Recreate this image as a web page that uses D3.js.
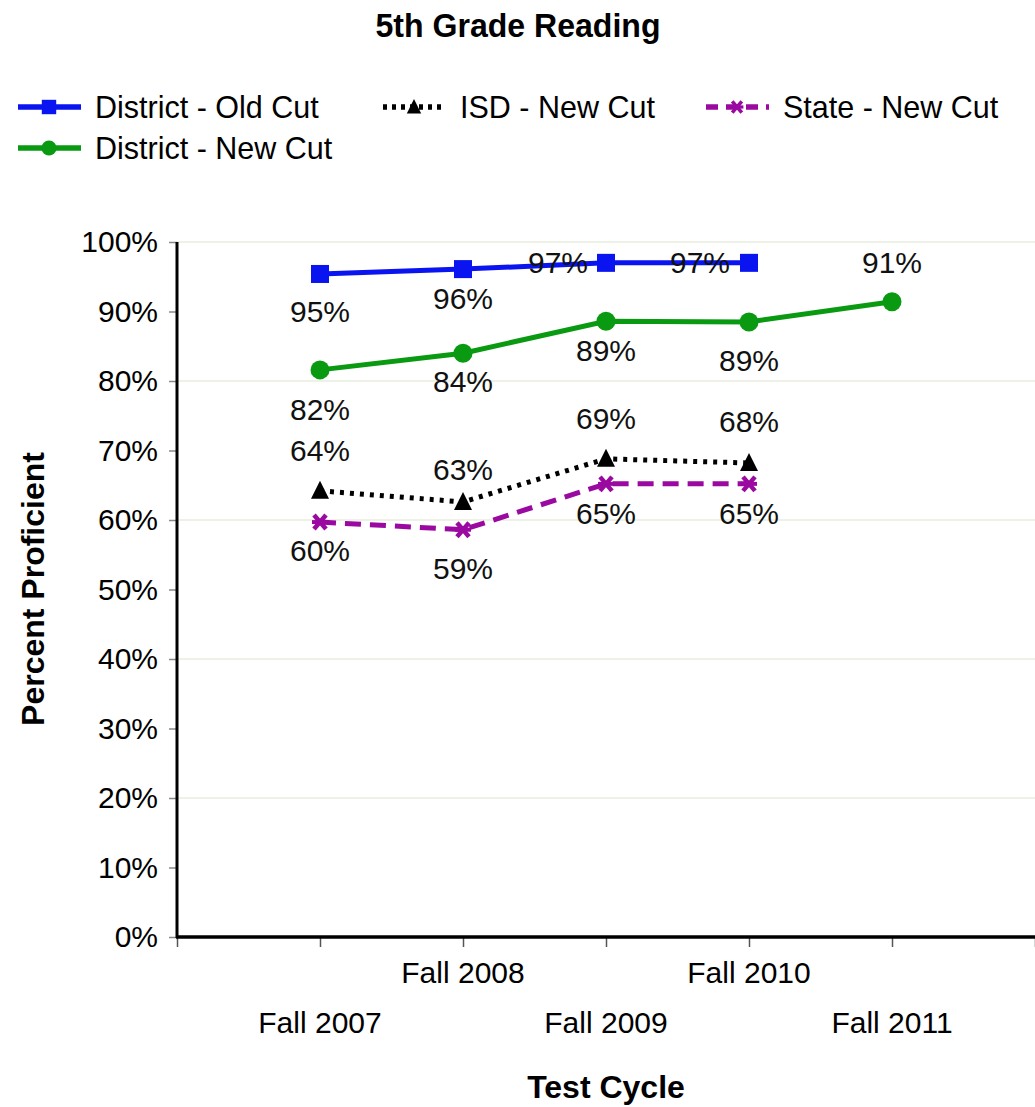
<!DOCTYPE html>
<html>
<head>
<meta charset="utf-8">
<script src="https://cdn.jsdelivr.net/npm/d3@7/dist/d3.min.js"></script>
<style>
  html, body { margin: 0; padding: 0; background: #fff; }
  svg { display: block; font-family: "Liberation Sans", Arial, sans-serif; }
</style>
</head>
<body>
<svg id="chart" width="1035" height="1107"></svg>
<script>
// ---- data ----
const categories = ["Fall 2007", "Fall 2008", "Fall 2009", "Fall 2010", "Fall 2011"];
const districtOld = [95.4, 96.1, 97.0, 97.0];
const districtNew = [81.6, 84.0, 88.6, 88.5, 91.4];
const isdNew = [64.2, 62.6, 68.8, 68.2];
const stateNew = [59.7, 58.6, 65.2, 65.2];
const districtOldLabels = ["95%", "96%", "97%", "97%"];
const districtNewLabels = ["82%", "84%", "89%", "89%", "91%"];
const isdNewLabels = ["64%", "63%", "69%", "68%"];
const stateNewLabels = ["60%", "59%", "65%", "65%"];
const yTicks = [0, 10, 20, 30, 40, 50, 60, 70, 80, 90, 100];
const gridTicks = [20, 40, 60, 80, 100];

// ---- layout / style (not data) ----
const plot = { left: 177, right: 1035, top: 242, bottom: 937 };
const svg = d3.select("#chart");

const x = d3.scaleLinear().domain([-1, categories.length]).range([plot.left, plot.right]);
const y = d3.scaleLinear().domain([0, 100]).range([plot.bottom, plot.top]);

// label offsets per series (pixel offsets, styling only)
const offOld = [[0, 37], [0, 29], [-48, -1], [-49, -1]];
const offNew = [[0, 39], [0, 28], [0, 29], [0, 38], [0, -40]];
const offIsd = [[0, -41], [0, -33], [0, -41], [0, -42]];
const offState = [[0, 28], [0, 38], [0, 29], [0, 29]];

// gridlines
svg.append("g").selectAll("line").data(gridTicks).join("line")
  .attr("x1", plot.left).attr("x2", plot.right)
  .attr("y1", d => y(d)).attr("y2", d => y(d))
  .attr("stroke", "#e9ecdd").attr("stroke-width", 1.5);

// y axis
const yAxis = d3.axisLeft(y).tickValues(yTicks).tickFormat(d => d + "%").tickSize(8).tickPadding(11);
const gy = svg.append("g").attr("transform", `translate(${plot.left},0)`).call(yAxis);
gy.select(".domain").remove();
gy.selectAll(".tick line").attr("stroke", "#888").attr("stroke-width", 1.5);
gy.selectAll(".tick text").attr("font-size", 30).attr("fill", "#000")
  .attr("font-family", "Liberation Sans, Arial, sans-serif");

// x axis
const xTickVals = d3.range(-1, categories.length + 1);
const xAxis = d3.axisBottom(x).tickValues(xTickVals).tickFormat("").tickSize(10);
const gx = svg.append("g").attr("transform", `translate(0,${plot.bottom})`).call(xAxis);
gx.select(".domain").remove();
gx.selectAll(".tick line").attr("stroke", "#555").attr("stroke-width", 1.5);

// x labels (staggered)
svg.append("g").selectAll("text").data(categories).join("text")
  .attr("x", (d, i) => x(i))
  .attr("y", (d, i) => i % 2 === 1 ? 983 : 1033)
  .attr("text-anchor", "middle").attr("font-size", 30).text(d => d);

// axis lines
svg.append("line").attr("x1", plot.left).attr("x2", plot.left)
  .attr("y1", plot.top).attr("y2", plot.bottom + 1).attr("stroke", "#000").attr("stroke-width", 3);
svg.append("line").attr("x1", plot.left - 1).attr("x2", plot.right)
  .attr("y1", plot.bottom).attr("y2", plot.bottom).attr("stroke", "#000").attr("stroke-width", 3.5);

// series definitions
const series = [
  { name: "District - Old Cut", values: districtOld, labels: districtOldLabels, off: offOld,
    color: "#0a14f0", dash: null, width: 5, marker: "square" },
  { name: "ISD - New Cut", values: isdNew, labels: isdNewLabels, off: offIsd,
    color: "#000", dash: "4,6", width: 5, marker: "triangle" },
  { name: "State - New Cut", values: stateNew, labels: stateNewLabels, off: offState,
    color: "#9a0aa0", dash: "16,9", width: 5, marker: "x" },
  { name: "District - New Cut", values: districtNew, labels: districtNewLabels, off: offNew,
    color: "#0a9a12", dash: null, width: 5, marker: "circle" }
];

function drawMarker(g, type, color) {
  if (type === "square") {
    g.append("rect").attr("x", -9).attr("y", -9).attr("width", 18).attr("height", 18).attr("fill", color);
  } else if (type === "circle") {
    g.append("circle").attr("r", 9.5).attr("fill", color);
  } else if (type === "triangle") {
    g.append("path").attr("d", "M0,-10 L9,8 L-9,8 Z").attr("fill", color);
  } else if (type === "x") {
    g.append("path").attr("d", "M-6,-7 L6,7 M6,-7 L-6,7").attr("stroke", color).attr("stroke-width", 4.5).attr("fill", "none");
    g.append("path").attr("d", "M-8,0 L8,0").attr("stroke", color).attr("stroke-width", 4).attr("fill", "none");
  }
}

const line = d3.line().x((d, i) => x(i)).y(d => y(d));

const drawOrder = [3, 0, 1, 2];
drawOrder.forEach(si => {
  const s = series[si];
  svg.append("path").datum(s.values).attr("d", line)
    .attr("fill", "none").attr("stroke", s.color).attr("stroke-width", s.width)
    .attr("stroke-dasharray", s.dash);
  s.values.forEach((v, i) => {
    const g = svg.append("g").attr("transform", `translate(${x(i)},${y(v)})`);
    drawMarker(g, s.marker, s.color);
  });
});

// data labels
series.forEach(s => {
  svg.append("g").selectAll("text").data(s.values).join("text")
    .attr("x", (d, i) => x(i) + s.off[i][0])
    .attr("y", (d, i) => y(d) + s.off[i][1])
    .attr("dy", "0.36em")
    .attr("text-anchor", "middle").attr("font-size", 30).attr("fill", "#111")
    .text((d, i) => s.labels[i]);
});

// title
svg.append("text").attr("x", 518).attr("y", 37).attr("text-anchor", "middle")
  .attr("font-size", 32.5).attr("font-weight", "bold")
  .attr("textLength", 285).attr("lengthAdjust", "spacingAndGlyphs")
  .text("5th Grade Reading");

// axis titles
svg.append("text").attr("x", 606).attr("y", 1098).attr("text-anchor", "middle")
  .attr("font-size", 32).attr("font-weight", "bold").text("Test Cycle");
svg.append("text").attr("transform", "translate(44,589) rotate(-90)").attr("text-anchor", "middle")
  .attr("font-size", 32).attr("font-weight", "bold").text("Percent Proficient");

// legend
const legendItems = [
  { s: series[0], lx: 18, ly: 107 },
  { s: series[1], lx: 383, ly: 107 },
  { s: series[2], lx: 706, ly: 107 },
  { s: series[3], lx: 18, ly: 148 }
];
legendItems.forEach(it => {
  const g = svg.append("g").attr("transform", `translate(${it.lx},${it.ly})`);
  g.append("line").attr("x1", 0).attr("x2", 63).attr("y1", 0).attr("y2", 0)
    .attr("stroke", it.s.color).attr("stroke-width", 5.5)
    .attr("stroke-dasharray", it.s.marker === "triangle" ? "4,5" : (it.s.marker === "x" ? "12,8" : null));
  const m = g.append("g").attr("transform", "translate(31,0) scale(0.8)");
  drawMarker(m, it.s.marker, it.s.color);
  g.append("text").attr("x", 77).attr("y", 0).attr("dy", "0.36em")
    .attr("font-size", 30.5).text(it.s.name);
});
</script>
</body>
</html>
